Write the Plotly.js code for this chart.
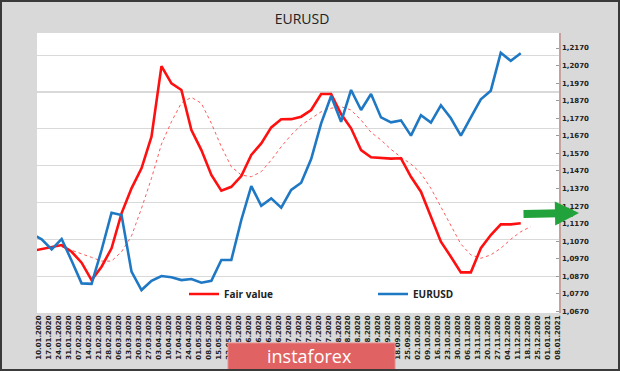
<!DOCTYPE html>
<html>
<head>
<meta charset="utf-8">
<script src="https://cdn.plot.ly/plotly-3.0.1.min.js"></script>
<style>
  html, body { margin:0; padding:0; background:#d9d9d9; }
  #wrap { position:relative; width:620px; height:371px; }
  #chart { width:620px; height:371px; }
  #frame { position:absolute; left:0; top:0; width:620px; height:371px; box-sizing:border-box; border:2px solid #3a3a3a; pointer-events:none; }
</style>
</head>
<body>
<div id="wrap"><div id="chart"></div><div id="frame"></div></div>
<script>
// ---- data ----
const weekDates = ['2020-01-05','2020-01-12','2020-01-19','2020-01-26','2020-02-02','2020-02-09','2020-02-16','2020-02-23',
 '2020-03-01','2020-03-08','2020-03-15','2020-03-22','2020-03-29','2020-04-05','2020-04-12','2020-04-19','2020-04-26',
 '2020-05-03','2020-05-10','2020-05-17','2020-05-24','2020-05-31','2020-06-07','2020-06-14','2020-06-21','2020-06-28',
 '2020-07-05','2020-07-12','2020-07-19','2020-07-26','2020-08-02','2020-08-09','2020-08-16','2020-08-23','2020-08-30',
 '2020-09-06','2020-09-13','2020-09-20','2020-09-27','2020-10-04','2020-10-11','2020-10-18','2020-10-25',
 '2020-11-01','2020-11-08','2020-11-15','2020-11-22','2020-11-29','2020-12-06','2020-12-13','2020-12-20'];

const eurusd = [1.1111,1.1081,1.1024,1.1083,1.0959,1.0830,1.0827,1.1020,
 1.1232,1.1219,1.0897,1.0792,1.0845,1.0872,1.0865,1.0849,1.0855,
 1.0834,1.0845,1.0963,1.0963,1.1191,1.1384,1.1272,1.1314,1.1261,
 1.1362,1.1403,1.1538,1.1741,1.1897,1.1750,1.1931,1.1817,1.1908,
 1.1775,1.1747,1.1758,1.1671,1.1787,1.1745,1.1844,1.1770,
 1.1671,1.1775,1.1878,1.1927,1.2143,1.2097,1.2140,null];

const fairValue = [1.1014,1.1024,1.1035,1.1048,1.1010,1.0948,1.0849,1.0925,
 1.1030,1.1229,1.1371,1.1485,1.1665,1.2067,1.1969,1.1931,1.1703,
 1.1589,1.1447,1.1358,1.1380,1.1441,1.1561,1.1627,1.1718,1.1764,
 1.1765,1.1779,1.1817,1.1908,1.1908,1.1794,1.1713,1.1589,1.1548,
 1.1542,1.1540,1.1542,1.1437,1.1352,1.1210,1.1067,1.0982,
 1.0893,1.0893,1.1030,1.1105,1.1166,1.1166,1.1172,null];

const fairValueAvg = [null,null,null,1.1039,1.1020,1.1001,1.0978,1.0957,
 1.0957,1.1010,1.1100,1.1257,1.1428,1.1623,1.1750,1.1858,1.1889,
 1.1855,1.1741,1.1608,1.1494,1.1447,1.1437,1.1466,1.1532,1.1608,
 1.1675,1.1731,1.1770,1.1807,1.1827,1.1836,1.1817,1.1760,1.1690,
 1.1646,1.1593,1.1548,1.1510,1.1457,1.1371,1.1266,1.1153,
 1.1054,1.0992,1.0973,1.0992,1.1030,1.1081,1.1124,1.1153];

const tickLabels = ['10.01.2020','17.01.2020','24.01.2020','31.01.2020','07.02.2020','14.02.2020','21.02.2020','28.02.2020',
 '06.03.2020','13.03.2020','20.03.2020','27.03.2020','03.04.2020','10.04.2020','17.04.2020','24.04.2020',
 '01.05.2020','08.05.2020','15.05.2020','22.05.2020','29.05.2020','05.06.2020','12.06.2020','19.06.2020','26.06.2020',
 '03.07.2020','10.07.2020','17.07.2020','24.07.2020','31.07.2020','07.08.2020','14.08.2020','21.08.2020','28.08.2020',
 '04.09.2020','11.09.2020','18.09.2020','25.09.2020','02.10.2020','09.10.2020','16.10.2020','23.10.2020','30.10.2020',
 '06.11.2020','13.11.2020','20.11.2020','27.11.2020','04.12.2020','11.12.2020','18.12.2020','25.12.2020',
 '01.01.2021','08.01.2021'];

const chartTitle = 'EURUSD';
const seriesNames = ['Fair value', 'EURUSD'];
const watermarkText = 'instaforex';

// ---- layout helpers ----
const W = 620, H = 371;
const M = {l:37, r:61, t:33, b:58};
const PW = W - M.l - M.r, PH = H - M.t - M.b;
const px = X => (X - M.l) / PW;
const py = Y => (H - M.b - Y) / PH;

const tickDates = tickLabels.map(s => { const p = s.split('.'); return p[2] + '-' + p[1] + '-' + p[0]; });

const traces = [
  {x:[], y:[], xaxis:'x', yaxis:'y', showlegend:false, hoverinfo:'skip', type:'scatter', mode:'lines'},
  {x:weekDates, y:fairValueAvg, yaxis:'y2', type:'scatter', mode:'lines', showlegend:false,
   line:{color:'#ff5a5a', width:1, dash:'dot'}},
  {x:weekDates, y:fairValue, yaxis:'y2', type:'scatter', mode:'lines', name:seriesNames[0], legend:'legend',
   line:{color:'#ff1010', width:2.6}},
  {x:weekDates, y:eurusd, yaxis:'y2', type:'scatter', mode:'lines', name:seriesNames[1], legend:'legend2',
   line:{color:'#1f78c4', width:2.6}}
];

const layout = {
  width:W, height:H,
  margin:M,
  paper_bgcolor:'#d9d9d9',
  plot_bgcolor:'#ffffff',
  separators:',.',
  font:{family:'Open Sans, sans-serif', color:'#222'},
  title:{text:chartTitle, x:302/W, xanchor:'center', xref:'container', y:1-18.8/H, yanchor:'middle', yref:'container',
         font:{size:14, color:'#222', family:'Open Sans, sans-serif'}},
  xaxis:{type:'date', range:['2020-01-08 17:00','2021-01-08 20:00'], tickvals:tickDates, ticktext:tickLabels,
         tickangle:-90, tickfont:{size:7, weight:'bold', family:'DejaVu Sans', color:'#222'},
         showgrid:false, zeroline:false, showline:false, ticks:'', fixedrange:true},
  yaxis:{range:[0, PH/36.83], dtick:1, tick0:0, showticklabels:false, showgrid:true, gridcolor:'#d9d9d9', gridwidth:1.2,
         zeroline:false, showline:false, ticks:''},
  yaxis2:{overlaying:'y', side:'right', range:[1.0670 - (313-311.5)/1757, 1.2170 + (48-33)/1757],
          tick0:1.067, dtick:0.01, tickformat:'.4f', showgrid:false, zeroline:false,
          showline:true, linecolor:'#c4a39f', linewidth:1.5, ticks:'inside', ticklen:3, tickcolor:'#9a9a9a',
          tickfont:{size:7, weight:'bold', family:'DejaVu Sans', color:'#222'}},
  legend:{x:px(184), xanchor:'left', y:py(294), yanchor:'middle', orientation:'h', bgcolor:'rgba(0,0,0,0)',
          font:{size:10, weight:'bold', family:'Open Sans, sans-serif', color:'#222'}, itemwidth:30},
  legend2:{x:px(373), xanchor:'left', y:py(294), yanchor:'middle', orientation:'h', bgcolor:'rgba(0,0,0,0)',
          font:{size:10, weight:'bold', family:'Open Sans, sans-serif', color:'#222'}, itemwidth:30},
  shapes:[
    {type:'rect', xref:'paper', yref:'paper', x0:px(228), x1:px(395), y0:py(374), y1:py(343),
     fillcolor:'#e06262', line:{color:'#ea8c8c', width:1}, layer:'above'}
  ],
  annotations:[
    {xref:'paper', yref:'paper', x:px(309), y:py(356), text:watermarkText, showarrow:false,
     font:{size:18, color:'#ffffff', family:'Open Sans, sans-serif'}, xanchor:'center', yanchor:'middle'},
    {xref:'paper', yref:'paper', x:px(579), y:py(213), text:'', showarrow:true, ax:-57, ay:1,
     arrowhead:2, arrowsize:0.6, arrowwidth:8, arrowcolor:'#22a23a', standoff:0}
  ],
  showlegend:true
};

Plotly.newPlot('chart', traces, layout, {displayModeBar:false, staticPlot:true});
</script>
</body>
</html>
